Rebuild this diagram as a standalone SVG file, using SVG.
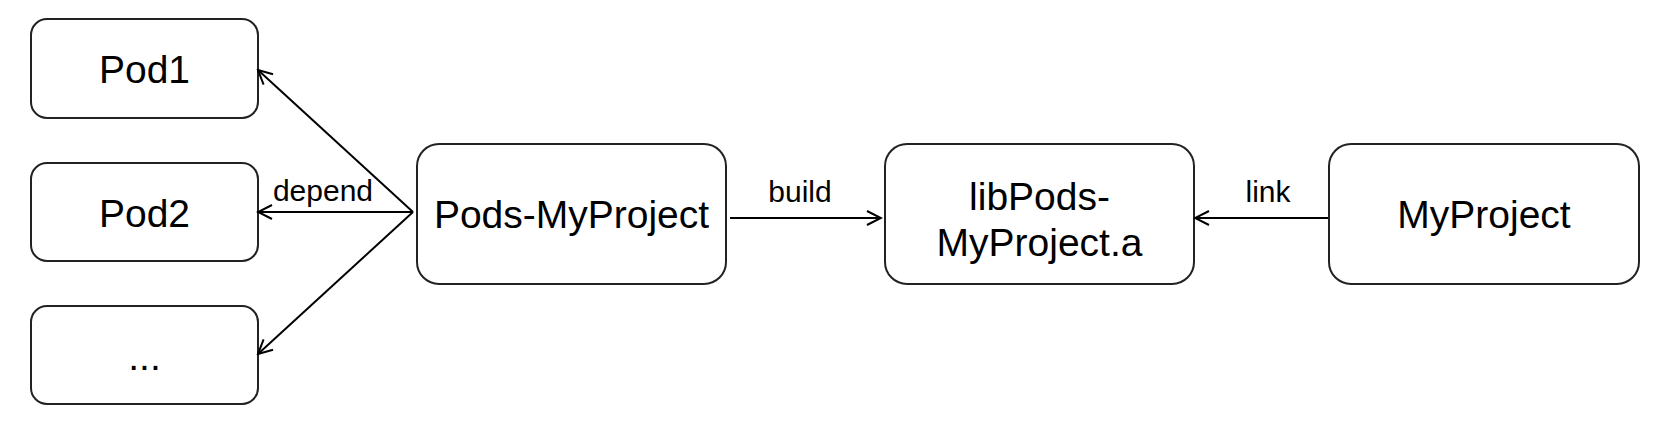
<svg xmlns="http://www.w3.org/2000/svg" width="1668" height="424" viewBox="0 0 1668 424">
<style>
.node rect{fill:#fff;stroke:#222;stroke-width:2}
.node text{font-family:"Liberation Sans",Arial,sans-serif;font-size:39px;fill:#000;text-anchor:middle}
.edge{fill:none;stroke:#000;stroke-width:2;marker-end:url(#arr)}
.lbl{font-family:"Liberation Sans",Arial,sans-serif;font-size:30px;fill:#000;text-anchor:middle}
</style>
<defs>
<marker id="arr" viewBox="-16 -9 18 18" markerWidth="18" markerHeight="18" refX="0" refY="0" markerUnits="userSpaceOnUse" orient="auto">
<path d="M-14,-7 L0,0 L-14,7" fill="none" stroke="#000" stroke-width="2"/>
</marker>
</defs>
<rect width="1668" height="424" fill="#fff"/>
<g id="pod1" class="node"><rect x="31" y="19" width="227" height="99" rx="16"/><text x="144.5" y="83">Pod1</text></g>
<g id="pod2" class="node"><rect x="31" y="163" width="227" height="98" rx="16"/><text x="144.5" y="227">Pod2</text></g>
<g id="podmore" class="node"><rect x="31" y="306" width="227" height="98" rx="16"/><text x="144.5" y="370">...</text></g>
<g id="pods-myproject" class="node"><rect x="417" y="144" width="309" height="140" rx="22"/><text x="571.5" y="228">Pods-MyProject</text></g>
<g id="libpods" class="node"><rect x="885" y="144" width="309" height="140" rx="22"/><text x="1039.5" y="210">libPods-</text><text x="1039.5" y="256">MyProject.a</text></g>
<g id="myproject" class="node"><rect x="1329" y="144" width="310" height="140" rx="22"/><text x="1484" y="228">MyProject</text></g>
<g id="connectors">
<path class="edge" d="M413,212 L258,70"/>
<path class="edge" d="M413,212 L258,212"/>
<path class="edge" d="M413,212 L258,354"/>
<text class="lbl" x="323" y="201">depend</text>
<path class="edge" d="M730,218 L881,218"/>
<text class="lbl" x="800" y="202">build</text>
<path class="edge" d="M1328,218 L1195,218"/>
<text class="lbl" x="1268" y="202">link</text>
</g>
</svg>
